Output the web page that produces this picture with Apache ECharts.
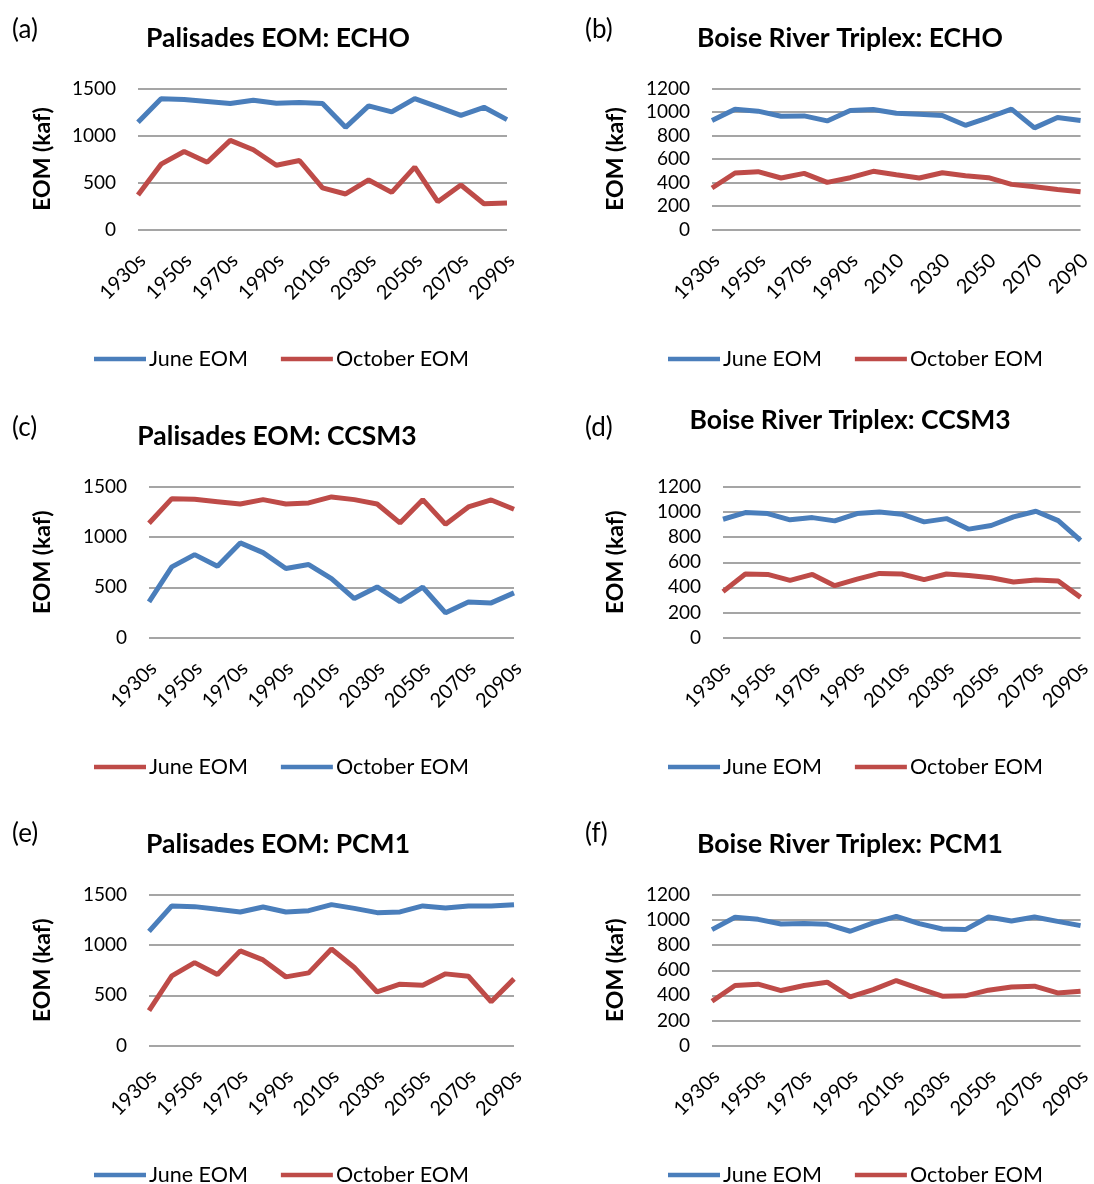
<!DOCTYPE html>
<html>
<head>
<meta charset="utf-8">
<script src="https://cdn.jsdelivr.net/npm/echarts@6/dist/echarts.min.js"></script>
<style>
  html, body { margin: 0; padding: 0; background: #ffffff; }
  #chart { width: 1094px; height: 1184px; }
</style>
</head>
<body>
<div id="chart"></div>
<script>
// ---- Data ----
const decades = ['1930s','1940s','1950s','1960s','1970s','1980s','1990s','2000s','2010s','2020s','2030s','2040s','2050s','2060s','2070s','2080s','2090s'];
const decadesB = ['1930s','1940s','1950s','1960s','1970s','1980s','1990s','2000s','2010','2020','2030','2040','2050','2060','2070','2080','2090'];

const aJune = [1140,1390,1382,1361,1340,1375,1343,1350,1340,1087,1315,1251,1393,1304,1215,1300,1169];
const aOct  = [367,695,830,716,948,848,684,734,442,378,527,395,663,296,474,274,281];

const bJune = [927,1024,1007,964,967,924,1012,1021,990,981,970,887,953,1024,865,953,927];
const bOct  = [353,481,492,438,478,401,441,495,466,438,483,458,441,384,364,341,321];

const cJune = [1138,1384,1377,1354,1331,1374,1331,1341,1401,1374,1331,1142,1374,1128,1301,1371,1278];
const cOct  = [355,704,826,710,943,846,687,727,587,388,504,358,501,246,355,345,445];

const dJune = [943,996,988,938,956,930,988,1001,983,922,948,864,893,962,1007,932,775];
const dOct  = [366,506,503,456,503,413,466,511,506,461,506,495,477,442,458,450,320];

const eJune = [1138,1391,1384,1357,1331,1381,1331,1344,1404,1367,1324,1331,1391,1371,1391,1391,1404];
const eOct  = [348,694,826,707,943,853,684,724,962,777,534,611,601,714,690,435,664];

const fJune = [924,1022,1006,969,972,966,911,977,1030,972,929,924,1025,993,1025,990,956];
const fOct  = [353,478,489,438,478,505,388,446,518,454,393,396,441,467,473,419,433];

const seriesNames = ['June EOM', 'October EOM'];
const yAxisName = 'EOM (kaf)';

// ---- Styles / layout ----
const BLUE = '#4A7EBB';
const RED = '#BE4B48';
const GRID = '#878787';
const FONT = 'Lato';

const panels = [
  { id:'a', title:'Palisades EOM: ECHO', cats:decades, june:aJune, oct:aOct, jc:BLUE, oc:RED, max:1500, step:500,
    grid:{left:138, top:88.5, width:369, height:141}, tx:278, ty:38, lx:12, ly:30, legL:94, legY:358, nameGap:84 },
  { id:'b', title:'Boise River Triplex: ECHO', cats:decadesB, june:bJune, oct:bOct, jc:BLUE, oc:RED, max:1200, step:200,
    grid:{left:712, top:88.5, width:376, height:141}, tx:850, ty:38, lx:585, ly:30, legL:668, legY:358, nameGap:85 },
  { id:'c', title:'Palisades EOM: CCSM3', cats:decades, june:cJune, oct:cOct, jc:RED, oc:BLUE, max:1500, step:500,
    grid:{left:149, top:487, width:365, height:150.5}, tx:277, ty:436, lx:12, ly:428, legL:94, legY:766, nameGap:95 },
  { id:'d', title:'Boise River Triplex: CCSM3', cats:decades, june:dJune, oct:dOct, jc:BLUE, oc:RED, max:1200, step:200,
    grid:{left:723, top:487, width:372, height:150.5}, tx:850, ty:420, lx:585, ly:428, legL:668, legY:766, nameGap:96 },
  { id:'e', title:'Palisades EOM: PCM1', cats:decades, june:eJune, oct:eOct, jc:BLUE, oc:RED, max:1500, step:500,
    grid:{left:149, top:895, width:365, height:150.5}, tx:278, ty:844, lx:12, ly:834, legL:94, legY:1174, nameGap:95 },
  { id:'f', title:'Boise River Triplex: PCM1', cats:decades, june:fJune, oct:fOct, jc:BLUE, oc:RED, max:1200, step:200,
    grid:{left:712, top:895, width:376, height:150.5}, tx:850, ty:844, lx:585, ly:834, legL:668, legY:1174, nameGap:85 }
];

const option = {
  backgroundColor: '#ffffff',
  animation: false,
  textStyle: { fontFamily: FONT },
  grid: [], xAxis: [], yAxis: [], series: [], legend: [], graphic: []
};

panels.forEach((p, i) => {
  option.grid.push(Object.assign({ containLabel: false }, p.grid));
  option.xAxis.push({
    type: 'category', gridIndex: i, data: p.cats, boundaryGap: false,
    axisLine: { show: false }, axisTick: { show: false },
    axisLabel: { interval: 1, rotate: 45, margin: 32, fontSize: 20, color: '#000', fontFamily: FONT, padding: [0, -6, 0, 0] }
  });
  option.yAxis.push({
    type: 'value', gridIndex: i, min: 0, max: p.max, interval: p.step,
    axisLine: { show: false }, axisTick: { show: false },
    splitLine: { lineStyle: { color: GRID, width: 1.5 } },
    axisLabel: { margin: 22, fontSize: 19, color: '#000', fontFamily: FONT, formatter: v => String(v) },
    name: yAxisName, nameLocation: 'middle', nameGap: p.nameGap,
    nameTextStyle: { fontSize: 23, fontWeight: 'bold', color: '#000', fontFamily: FONT }
  });
  const jn = seriesNames[0] + '#' + p.id, on = seriesNames[1] + '#' + p.id;
  option.series.push({
    name: jn, type: 'line', xAxisIndex: i, yAxisIndex: i, data: p.june, symbol: 'none',
    lineStyle: { color: p.jc, width: 5 }, itemStyle: { color: p.jc }
  });
  option.series.push({
    name: on, type: 'line', xAxisIndex: i, yAxisIndex: i, data: p.oct, symbol: 'none',
    lineStyle: { color: p.oc, width: 5 }, itemStyle: { color: p.oc }
  });
  option.legend.push({
    data: [jn, on], left: p.legL, top: p.legY - 10, padding: 0, icon: 'rect', itemWidth: 52, itemHeight: 4.5, itemGap: 33,
    formatter: n => n.split('#')[0],
    textStyle: { fontSize: 21.5, color: '#000', fontFamily: FONT, padding: [0,0,0,-2] }
  });
  option.graphic.push({
    type: 'text', x: p.tx, y: p.ty,
    style: { text: p.title, font: 'bold 26.5px ' + FONT, fill: '#000', textAlign: 'center', textVerticalAlign: 'middle' }
  });
  option.graphic.push({
    type: 'text', x: p.lx, y: p.ly,
    style: { text: '(' + p.id + ')', font: '26px ' + FONT, fill: '#000', textAlign: 'left', textVerticalAlign: 'middle' }
  });
});

const chart = echarts.init(document.getElementById('chart'), null, { renderer: 'canvas' });
chart.setOption(option);
</script>
</body>
</html>
